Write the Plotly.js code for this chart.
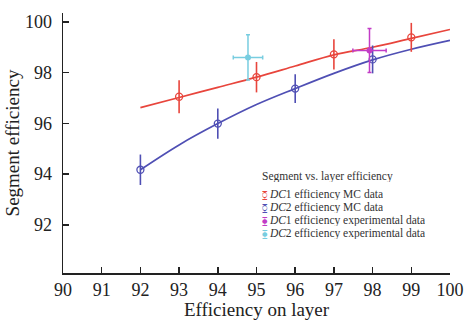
<!DOCTYPE html>
<html>
<head>
<meta charset="utf-8">
<script src="https://cdn.plot.ly/plotly-3.0.1.min.js"></script>
<style>html,body{margin:0;padding:0;background:#fff;}#chart{width:465px;height:320px;}</style>
</head>
<body>
<div id="chart"></div>
<script>
// Fit curves
const fitLayers = [92, 93, 94, 95, 96, 97, 98, 99, 100];
const dc1FitY = [96.62, 97.02, 97.42, 97.82, 98.26, 98.70, 99.00, 99.35, 99.70];
const dc2FitY = [94.17, 95.15, 95.99, 96.74, 97.37, 97.97, 98.50, 98.92, 99.27];

// MC data
const dc1McX = [93, 95, 97, 99];
const dc1McY = [97.05, 97.82, 98.72, 99.39];
const dc1McErr = [0.65, 0.60, 0.60, 0.57];
const dc2McX = [92, 94, 96, 98];
const dc2McY = [94.17, 95.99, 97.37, 98.52];
const dc2McErr = [0.60, 0.60, 0.57, 0.55];

// Experimental data
const dc1ExpX = [97.92];
const dc1ExpY = [98.87];
const dc1ExpErrY = [0.87];
const dc1ExpErrX = [0.43];
const dc2ExpX = [94.78];
const dc2ExpY = [98.60];
const dc2ExpErrY = [0.89];
const dc2ExpErrX = [0.38];

const xTicks = [90, 91, 92, 93, 94, 95, 96, 97, 98, 99, 100];
const yTicks = [92, 94, 96, 98, 100];

const legendTitle = 'Segment vs. layer efficiency';
const legendNames = ['<i>DC</i>1 efficiency MC data', '<i>DC</i>2 efficiency MC data',
                     '<i>DC</i>1 efficiency experimental data', '<i>DC</i>2 efficiency experimental data'];
const legendSymbols = ['\u29F2', '\u29F2', '\u29F3', '\u29F3'];

const RED = '#e8453c', BLUE = '#4f4fb4', MAG = '#c23cc6', CYAN = '#78cde0';
const legendColors = [RED, BLUE, MAG, CYAN];

const traces = [
  {x: fitLayers, y: dc1FitY, mode: 'lines', line: {color: RED, width: 1.7, shape: 'spline'}, hoverinfo: 'skip'},
  {x: fitLayers, y: dc2FitY, mode: 'lines', line: {color: BLUE, width: 1.7, shape: 'spline'}, hoverinfo: 'skip'},
  {x: dc1McX, y: dc1McY, mode: 'markers', name: legendNames[0],
   marker: {symbol: 'circle-open', size: 7, color: RED, line: {width: 1.3}},
   error_y: {type: 'data', array: dc1McErr, color: RED, thickness: 1.6, width: 0}},
  {x: dc2McX, y: dc2McY, mode: 'markers', name: legendNames[1],
   marker: {symbol: 'circle-open', size: 7, color: BLUE, line: {width: 1.3}},
   error_y: {type: 'data', array: dc2McErr, color: BLUE, thickness: 1.6, width: 0}},
  {x: dc2ExpX, y: dc2ExpY, mode: 'markers', name: legendNames[3],
   marker: {symbol: 'circle', size: 6, color: CYAN},
   error_y: {type: 'data', array: dc2ExpErrY, color: CYAN, thickness: 1.5, width: 2},
   error_x: {type: 'data', array: dc2ExpErrX, color: CYAN, thickness: 1.5, width: 2}},
  {x: dc1ExpX, y: dc1ExpY, mode: 'markers', name: legendNames[2],
   marker: {symbol: 'circle', size: 6, color: MAG},
   error_y: {type: 'data', array: dc1ExpErrY, color: MAG, thickness: 1.5, width: 2},
   error_x: {type: 'data', array: dc1ExpErrX, color: MAG, thickness: 1.5, width: 2}}
];

// Legend drawn as text annotations (compact line spacing like the reference)
const annFont = {family: 'Liberation Serif, serif', size: 11.5, color: '#333'};
const annotations = [{
  xref: 'paper', yref: 'paper', x: 0.51, y: 0.373, xanchor: 'left', yanchor: 'middle',
  text: legendTitle, showarrow: false, font: annFont, height: 12, valign: 'middle'
}];
const rowY = [0.304, 0.254, 0.204, 0.154];
legendNames.forEach((n, i) => {
  annotations.push({
    xref: 'paper', yref: 'paper', x: 0.51, y: rowY[i], xanchor: 'left', yanchor: 'middle',
    text: '<span style="font-family:DejaVu Sans;font-size:9px;color:' + legendColors[i] + '">' + legendSymbols[i] + '</span> ' + n,
    showarrow: false, font: annFont, height: 12, valign: 'middle'
  });
});

const layout = {
  width: 465, height: 320,
  margin: {l: 63, r: 15, t: 13, b: 47},
  paper_bgcolor: '#fff', plot_bgcolor: '#fff',
  font: {family: 'Liberation Serif, serif', color: '#222', size: 18},
  showlegend: false,
  annotations: annotations,
  xaxis: {
    range: [90, 100], tickvals: xTicks, ticktext: xTicks.map(String),
    showgrid: false, zeroline: false, showline: true, linecolor: '#222', linewidth: 1.5,
    ticks: 'inside', ticklen: 6, tickwidth: 1.5, tickcolor: '#222',
    tickfont: {size: 18}, ticklabelstandoff: 0,
    title: {text: 'Efficiency on layer', font: {size: 19}, standoff: 9}
  },
  yaxis: {
    range: [90.1, 100.35], tickvals: yTicks, ticktext: yTicks.map(String),
    showgrid: false, zeroline: false, showline: true, linecolor: '#222', linewidth: 1.5,
    ticks: 'inside', ticklen: 6, tickwidth: 1.5, tickcolor: '#222',
    tickfont: {size: 18}, ticklabelstandoff: 6,
    title: {text: 'Segment efficiency', font: {size: 19}, standoff: 0}
  }
};

Plotly.newPlot('chart', traces, layout, {staticPlot: true, displayModeBar: false});
</script>
</body>
</html>
